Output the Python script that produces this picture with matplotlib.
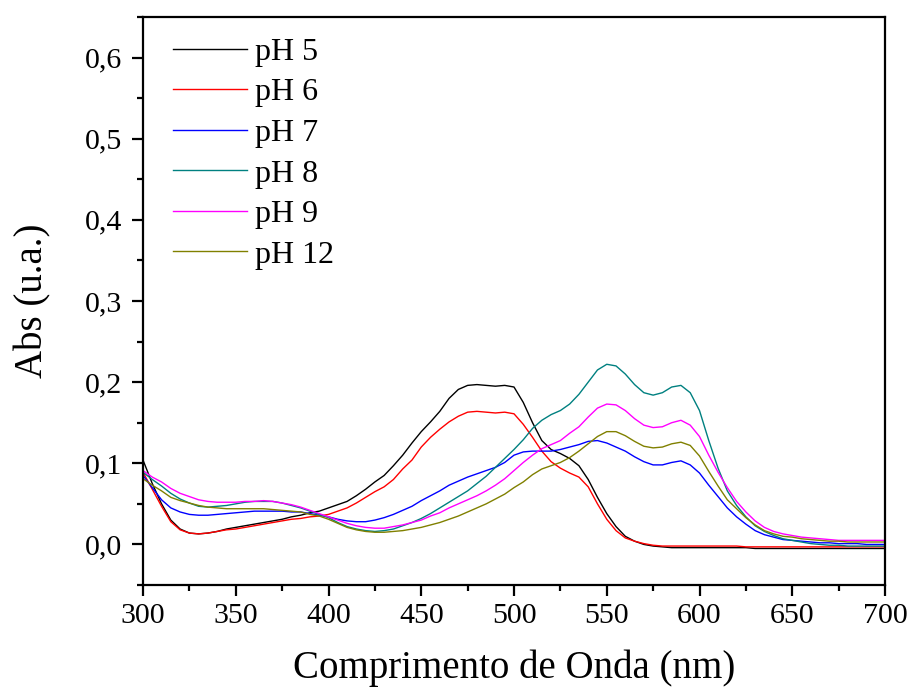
import numpy as np
import matplotlib
matplotlib.use("Agg")
import matplotlib.pyplot as plt
from matplotlib.ticker import MultipleLocator, FuncFormatter

plt.rcParams['font.family'] = ['Liberation Serif', 'DejaVu Serif']

wavelength = list(range(300, 705, 5))

ph5 = [0.104, 0.075, 0.050, 0.030, 0.019, 0.014, 0.013, 0.014, 0.016, 0.019,
       0.021, 0.023, 0.025, 0.027, 0.029, 0.031, 0.034, 0.036, 0.039, 0.041,
       0.045, 0.049, 0.053, 0.060, 0.068, 0.077, 0.085, 0.097, 0.110, 0.125,
       0.139, 0.151, 0.164, 0.180, 0.191, 0.196, 0.197, 0.196, 0.195, 0.196,
       0.194, 0.175, 0.150, 0.128, 0.117, 0.112, 0.106, 0.097, 0.080, 0.058,
       0.038, 0.022, 0.010, 0.004, 0.000, -0.002, -0.003, -0.004, -0.004, -0.004,
       -0.004, -0.004, -0.004, -0.004, -0.004, -0.004, -0.005, -0.005, -0.005, -0.005,
       -0.005, -0.005, -0.005, -0.005, -0.005, -0.005, -0.005, -0.005, -0.005, -0.005,
       -0.005]

ph6 = [0.089, 0.068, 0.047, 0.028, 0.018, 0.014, 0.013, 0.014, 0.016, 0.018,
       0.019, 0.021, 0.023, 0.025, 0.027, 0.029, 0.031, 0.032, 0.034, 0.035,
       0.037, 0.041, 0.045, 0.051, 0.058, 0.065, 0.071, 0.080, 0.093, 0.104,
       0.120, 0.132, 0.142, 0.151, 0.158, 0.163, 0.164, 0.163, 0.162, 0.163,
       0.161, 0.148, 0.132, 0.115, 0.102, 0.094, 0.088, 0.083, 0.071, 0.050,
       0.031, 0.017, 0.008, 0.004, 0.001, -0.001, -0.002, -0.002, -0.002, -0.002,
       -0.002, -0.002, -0.002, -0.002, -0.002, -0.003, -0.003, -0.003, -0.003, -0.003,
       -0.003, -0.003, -0.003, -0.003, -0.003, -0.003, -0.003, -0.003, -0.003, -0.003,
       -0.003]

ph7 = [0.085, 0.070, 0.055, 0.045, 0.040, 0.037, 0.036, 0.036, 0.037, 0.038,
       0.039, 0.040, 0.041, 0.041, 0.041, 0.041, 0.040, 0.040, 0.038, 0.036,
       0.034, 0.031, 0.029, 0.028, 0.028, 0.030, 0.033, 0.037, 0.042, 0.047,
       0.054, 0.060, 0.066, 0.073, 0.078, 0.083, 0.087, 0.091, 0.095, 0.101,
       0.110, 0.114, 0.115, 0.115, 0.115, 0.117, 0.120, 0.123, 0.127, 0.128,
       0.125, 0.120, 0.115, 0.108, 0.102, 0.098, 0.098, 0.101, 0.103, 0.098,
       0.088, 0.073, 0.059, 0.045, 0.034, 0.025, 0.017, 0.012, 0.009, 0.006,
       0.005, 0.004, 0.003, 0.002, 0.002, 0.001, 0.001, 0.001, 0.000, 0.000,
       0.000]

ph8 = [0.089, 0.080, 0.072, 0.063, 0.056, 0.051, 0.047, 0.046, 0.047, 0.048,
       0.050, 0.052, 0.053, 0.053, 0.053, 0.051, 0.048, 0.045, 0.041, 0.037,
       0.033, 0.027, 0.022, 0.019, 0.017, 0.016, 0.017, 0.019, 0.023, 0.027,
       0.032, 0.038, 0.045, 0.052, 0.059, 0.066, 0.075, 0.084, 0.095, 0.106,
       0.117, 0.129, 0.143, 0.153, 0.160, 0.165, 0.173, 0.185, 0.200, 0.215,
       0.222, 0.220, 0.210, 0.197, 0.187, 0.184, 0.187, 0.194, 0.196, 0.187,
       0.165, 0.128, 0.094, 0.066, 0.048, 0.034, 0.023, 0.016, 0.011, 0.007,
       0.005, 0.003, 0.001, 0.000, -0.001, -0.001, -0.002, -0.002, -0.002, -0.002,
       -0.002]

ph9 = [0.091, 0.083, 0.077, 0.069, 0.063, 0.059, 0.055, 0.053, 0.052, 0.052,
       0.052, 0.053, 0.053, 0.054, 0.053, 0.051, 0.049, 0.046, 0.042, 0.038,
       0.034, 0.030, 0.026, 0.023, 0.021, 0.020, 0.020, 0.022, 0.024, 0.027,
       0.030, 0.035, 0.039, 0.045, 0.050, 0.055, 0.060, 0.066, 0.073, 0.081,
       0.091, 0.101, 0.110, 0.118, 0.123, 0.128, 0.137, 0.145, 0.157, 0.168,
       0.173, 0.172, 0.165, 0.155, 0.147, 0.144, 0.145, 0.150, 0.153, 0.147,
       0.133, 0.110, 0.089, 0.070, 0.053, 0.040, 0.029, 0.021, 0.016, 0.013,
       0.011, 0.009, 0.008, 0.007, 0.006, 0.005, 0.005, 0.005, 0.005, 0.005,
       0.005]

ph12 = [0.081, 0.073, 0.066, 0.058, 0.054, 0.051, 0.048, 0.046, 0.045, 0.044,
        0.044, 0.044, 0.044, 0.044, 0.043, 0.042, 0.041, 0.040, 0.037, 0.035,
        0.031, 0.026, 0.021, 0.018, 0.016, 0.015, 0.015, 0.016, 0.017, 0.019,
        0.021, 0.024, 0.027, 0.031, 0.035, 0.040, 0.045, 0.050, 0.056, 0.062,
        0.070, 0.077, 0.086, 0.093, 0.097, 0.101, 0.107, 0.115, 0.124, 0.133,
        0.139, 0.139, 0.134, 0.127, 0.121, 0.119, 0.120, 0.124, 0.126, 0.122,
        0.109, 0.090, 0.072, 0.055, 0.044, 0.033, 0.024, 0.017, 0.013, 0.010,
        0.009, 0.007, 0.006, 0.005, 0.004, 0.004, 0.003, 0.003, 0.003, 0.003,
        0.003]

labels = ["pH 5", "pH 6", "pH 7", "pH 8", "pH 9", "pH 12"]
series = [ph5, ph6, ph7, ph8, ph9, ph12]
colors = ["#000000", "#FF0000", "#0000FF", "#008080", "#FF00FF", "#808000"]

fig = plt.figure(figsize=(9.11, 6.89), dpi=100)
ax = fig.add_axes([143 / 911, 1 - 585 / 689, (885 - 143) / 911, (585 - 17) / 689])

for y, lab, c in zip(series, labels, colors):
    ax.plot(wavelength, y, color=c, lw=1.0, label=lab, solid_joinstyle='round')

ax.set_xlim(300, 700)
ax.set_ylim(-0.05, 0.65)
ax.xaxis.set_major_locator(MultipleLocator(50))
ax.xaxis.set_minor_locator(MultipleLocator(25))
ax.yaxis.set_major_locator(MultipleLocator(0.1))
ax.yaxis.set_minor_locator(MultipleLocator(0.05))
ax.yaxis.set_major_formatter(FuncFormatter(lambda v, p: f"{v:.1f}".replace(".", ",").replace("-0,0", "0,0")))

for s in ax.spines.values():
    s.set_linewidth(1.6)
ax.tick_params(which='both', direction='out', top=False, right=False, width=1.6)
ax.tick_params(which='major', length=8, labelsize=21.5)
ax.tick_params(axis='y', which='major', pad=7)
ax.tick_params(axis='x', which='major', pad=5)
ax.tick_params(which='minor', length=4.5)

ax.set_xlabel("Comprimento de Onda (nm)", fontsize=28, labelpad=15)
ax.set_ylabel("Abs (u.a.)", fontsize=28, labelpad=24)

leg = ax.legend(loc='upper left', bbox_to_anchor=(0.032, 0.975), fontsize=23, frameon=False,
                handlelength=2.32, handletextpad=0.25, labelspacing=0.35,
                borderaxespad=0.0, borderpad=0.2)

fig.savefig("out.png", dpi=100)
